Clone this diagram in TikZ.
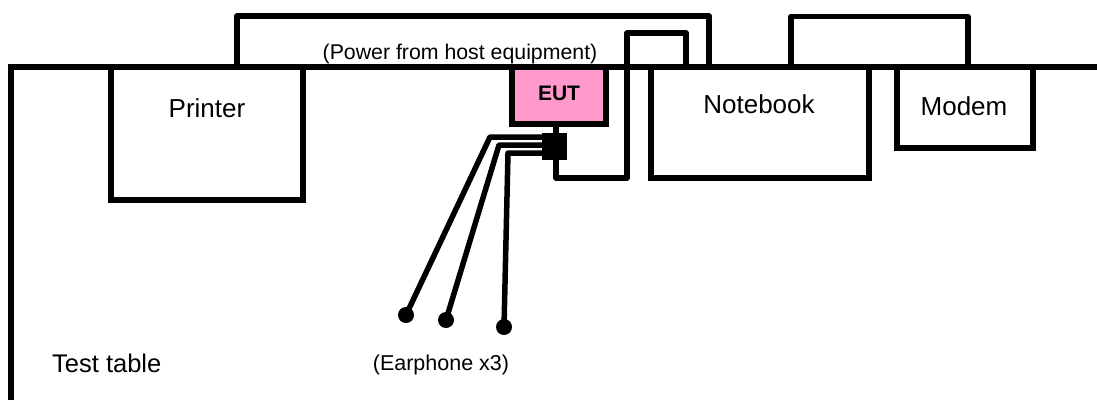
\documentclass[tikz,border=0pt]{standalone}
\usepackage{fontspec}
\setmainfont{Liberation Sans}
\definecolor{eutpink}{RGB}{255,153,204}
\begin{document}
\begin{tikzpicture}[x=1pt,y=-1pt,
  wire/.style={line width=5.5pt,line join=round},
  box/.style={draw,line width=5.5pt,fill=white,rectangle,inner sep=0pt,outer sep=0pt,anchor=north west},
  big/.style={font=\fontsize{26}{30}\selectfont,anchor=base,inner sep=0pt},
  small/.style={font=\fontsize{21.3}{25}\selectfont,anchor=base,inner sep=0pt},
  dot/.style={circle,fill=black,inner sep=0pt,minimum size=16pt}]
\useasboundingbox (0,0) rectangle (1097,400);
% table
\coordinate (tl) at (11,67);
\coordinate (tr) at (1097,67);
\coordinate (bl) at (11,400);
\draw[line width=5.5pt] (bl) -- (tl) -- (tr);
% equipment boxes
\node[box,minimum width=192pt,minimum height=133pt] (prn) at (111,67) {};
\node[box,minimum width=218pt,minimum height=111pt] (nb) at (651,67) {};
\node[box,minimum width=136pt,minimum height=81pt] (mdm) at (897,67) {};
\node[box,fill=eutpink,minimum width=94pt,minimum height=57pt] (eut) at (512,67) {};
% labels
\node[big] (lprn) at (207,117) {Printer};
\node[big] (lnb) at (759,113) {Notebook};
\node[big] (lmdm) at (964,115) {Modem};
\node[font=\fontsize{21}{25}\selectfont\bfseries,anchor=base,inner sep=0pt] (leut) at (559,100) {EUT};
\node[small] (lpow) at (460,59) {(Power from host equipment)};
\node[font=\fontsize{25.5}{30}\selectfont,anchor=base west,inner sep=0pt] (ltab) at (52,372) {Test table};
\node[font=\fontsize{21.5}{25}\selectfont,anchor=base,inner sep=0pt] (lear) at (441,370) {(Earphone x3)};
% connector block
\node[fill=black,rectangle,inner sep=0pt,minimum width=25pt,minimum height=27pt,anchor=north west] (blk) at (542,133) {};
% cables
\coordinate (c1) at (237,16);
\coordinate (c2) at (709,16);
\draw[wire] (prn.north -| c1) -- (c1) -- (c2) -- (c2 |- nb.north);
\coordinate (c3) at (791,16.5);
\coordinate (c4) at (968,16.5);
\draw[wire] (nb.north -| c3) -- (c3) -- (c4) -- (c4 |- mdm.north);
\coordinate (d0) at (556,178);
\coordinate (d1) at (627,33);
\coordinate (d2) at (686,33);
\draw[wire] (eut.south -| d0) -- (blk.north -| d0);
\draw[wire] (blk.south -| d0) -- (d0) -| (d1) -- (d2) -- (d2 |- nb.north);
% earphones
\node[dot] (e1) at (406,315) {};
\node[dot] (e2) at (446,320) {};
\node[dot] (e3) at (504,327) {};
\coordinate (k1) at (490,137);
\coordinate (k2) at (499,145);
\coordinate (k3) at (508,153);
\draw[wire] (e1.center) -- (k1) -- (k1 -| blk.west);
\draw[wire] (e2.center) -- (k2) -- (k2 -| blk.west);
\draw[wire] (e3.center) -- (k3) -- (k3 -| blk.west);
\end{tikzpicture}
\end{document}
